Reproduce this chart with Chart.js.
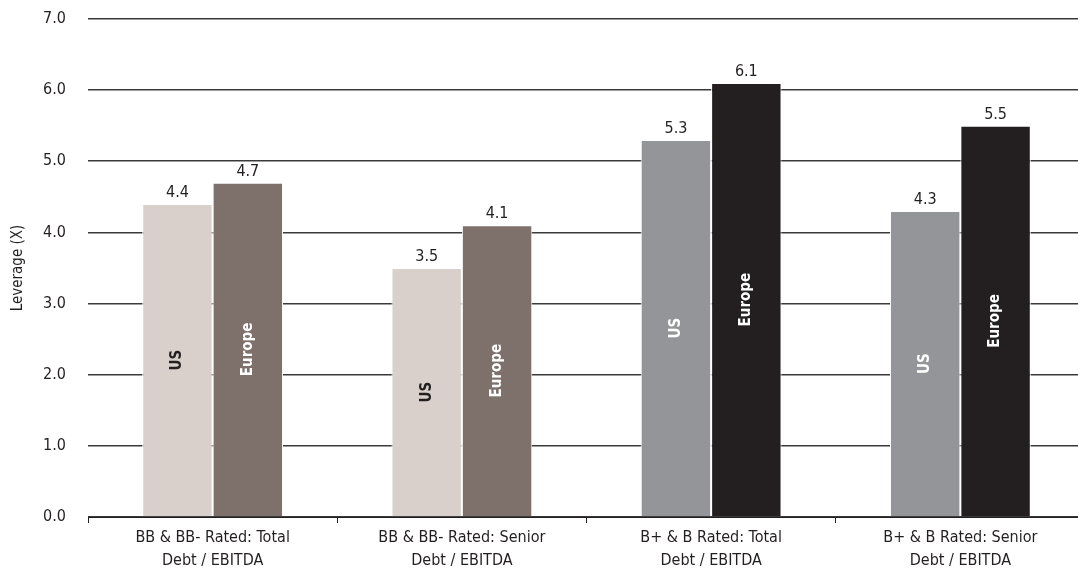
<!DOCTYPE html>
<html>
<head>
<meta charset="utf-8">
<script src="https://cdn.jsdelivr.net/npm/chart.js@4.4.1/dist/chart.umd.min.js"></script>
<style>
  html, body { margin: 0; padding: 0; background: #fff; overflow: hidden; }
  #wrap { width: 1090px; height: 578px; position: relative; }
</style>
</head>
<body>
<div id="wrap"><canvas id="c"></canvas></div>
<script>
const categories = [
  ["BB & BB- Rated: Total", "Debt / EBITDA"],
  ["BB & BB- Rated: Senior", "Debt / EBITDA"],
  ["B+ & B Rated: Total", "Debt / EBITDA"],
  ["B+ & B Rated: Senior", "Debt / EBITDA"]
];
const seriesNames = ["US", "Europe"];
const usValues = [4.4, 3.5, 5.3, 4.3];
const europeValues = [4.7, 4.1, 6.1, 5.5];
const usColors = ["#d9d0cb", "#d9d0cb", "#939598", "#939598"];
const europeColors = ["#7e716c", "#7e716c", "#231f20", "#231f20"];
const usLabelColors = ["#231f20", "#231f20", "#ffffff", "#ffffff"];
const europeLabelColors = ["#ffffff", "#ffffff", "#ffffff", "#ffffff"];
const yTicks = [0, 1, 2, 3, 4, 5, 6, 7];

const FONT = "'DejaVu Sans Condensed', 'Liberation Sans Narrow', 'Roboto', sans-serif";
const TEXT = "#231f20";

const labelPlugin = {
  id: 'barLabels',
  afterDatasetsDraw(chart) {
    const ctx = chart.ctx;
    chart.data.datasets.forEach((ds, di) => {
      const meta = chart.getDatasetMeta(di);
      meta.data.forEach((bar, i) => {
        const v = ds.data[i];
        ctx.save();
        ctx.fillStyle = TEXT;
        ctx.font = "16px " + FONT;
        ctx.textAlign = 'center';
        ctx.textBaseline = 'alphabetic';
        ctx.fillText(v.toFixed(1), bar.x, bar.y - 7);
        ctx.restore();
        ctx.save();
        const midY = (bar.y + bar.base) / 2;
        ctx.translate(bar.x, midY);
        ctx.rotate(-Math.PI / 2);
        ctx.fillStyle = ds.insideLabelColors[i];
        ctx.font = "bold 15px " + FONT;
        ctx.textAlign = 'center';
        ctx.textBaseline = 'middle';
        ctx.fillText(ds.label, 0, 0);
        ctx.restore();
      });
    });
  }
};

new Chart(document.getElementById('c'), {
  type: 'bar',
  data: {
    labels: categories,
    datasets: [
      { label: seriesNames[0], data: usValues, backgroundColor: usColors, insideLabelColors: usLabelColors,
        borderColor: '#ffffff', borderWidth: {left: 1, right: 1, top: 1}, borderSkipped: 'bottom' },
      { label: seriesNames[1], data: europeValues, backgroundColor: europeColors, insideLabelColors: europeLabelColors,
        borderColor: '#ffffff', borderWidth: {left: 1, right: 1, top: 1}, borderSkipped: 'bottom' }
    ]
  },
  options: {
    responsive: true,
    maintainAspectRatio: false,
    animation: false,
    layout: { padding: { top: 19, right: 5, left: 0, bottom: 0 } },
    datasets: { bar: { categoryPercentage: 0.565, barPercentage: 1.0 } },
    plugins: { legend: { display: false }, tooltip: { enabled: false } },
    scales: {
      x: {
        offset: true,
        grid: { display: true, drawOnChartArea: false, drawTicks: true, tickLength: 6, color: '#231f20', lineWidth: 1 },
        border: { display: true, color: '#231f20', width: 1 },
        ticks: { color: TEXT, font: { family: FONT, size: 16, lineHeight: 1.4 }, padding: 4, maxRotation: 0, autoSkip: false },
        afterFit(scale) { scale.height = 61; scale.paddingLeft = 0; scale.paddingRight = 0; }
      },
      y: {
        min: 0, max: 7,
        afterBuildTicks(scale) { scale.ticks = yTicks.map(v => ({ value: v })); },
        grid: { color: '#3a3a3a', lineWidth: 1.6, drawTicks: false },
        border: { display: false },
        ticks: { color: TEXT, font: { family: FONT, size: 16 }, padding: 22, callback: v => Number(v).toFixed(1) },
        title: { display: true, text: 'Leverage (X)', color: TEXT, font: { family: FONT, size: 15 }, padding: { top: 9, bottom: 0 } },
        afterFit(scale) { scale.width = 88; scale.paddingTop = 0; scale.paddingBottom = 0; }
      }
    }
  },
  plugins: [labelPlugin]
});
</script>
</body>
</html>
